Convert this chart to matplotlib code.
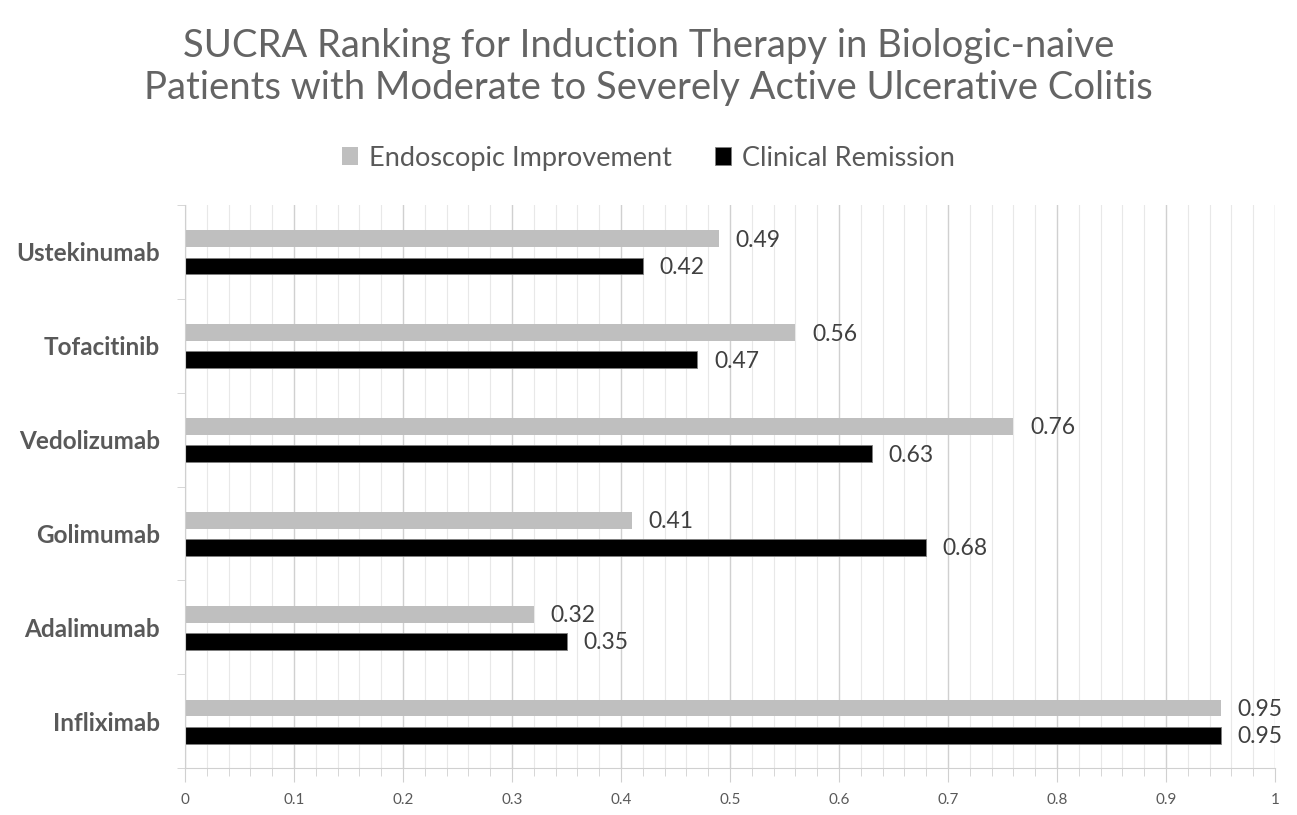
import numpy as np
import matplotlib.pyplot as plt
from matplotlib.ticker import MultipleLocator, FuncFormatter

plt.rcParams['font.family'] = ['Lato', 'DejaVu Sans']

# data
drugs = ['Infliximab', 'Adalimumab', 'Golimumab', 'Vedolizumab', 'Tofacitinib', 'Ustekinumab']
endoscopic = [0.95, 0.32, 0.41, 0.76, 0.56, 0.49]
clinical = [0.95, 0.35, 0.68, 0.63, 0.47, 0.42]

txt = '#595959'
y = np.arange(len(drugs))
h = 0.18

fig = plt.figure(figsize=(12.97, 8.15), dpi=100)
ax = fig.add_axes([185/1297, 1-768/815, 1090/1297, 563/815])

b1 = ax.barh(y + 0.14, endoscopic, height=h, color='#bfbfbf', label='Endoscopic Improvement')
b2 = ax.barh(y - 0.15, clinical, height=h, color='black', edgecolor='#7f7f7f', linewidth=0.6,
             label='Clinical Remission')

for bars, vals in ((b1, endoscopic), (b2, clinical)):
    for r, v in zip(bars, vals):
        ax.annotate(f'{v:.2f}', (v, r.get_y() + r.get_height()/2), xytext=(12, -1),
                    textcoords='offset points', va='center', ha='left', fontsize=16.5, color='#404040')

ax.set_xlim(0, 1)
ax.set_ylim(-0.5, len(drugs) - 0.5)
ax.xaxis.set_major_locator(MultipleLocator(0.1))
ax.xaxis.set_minor_locator(MultipleLocator(0.02))
ax.xaxis.set_major_formatter(FuncFormatter(lambda v, p: f'{v:.1f}'.rstrip('0').rstrip('.') if v else '0'))
ax.grid(axis='x', which='major', color='#d0d0d0', linewidth=1.0)
ax.grid(axis='x', which='minor', color='#e8e8e8', linewidth=0.8)
ax.set_axisbelow(True)
ax.tick_params(axis='x', which='both', colors='#d0d0d0', labelcolor=txt, labelsize=11, pad=8)
ax.tick_params(axis='x', which='major', length=10)
ax.tick_params(axis='x', which='minor', length=6)

ax.set_yticks(y)
ax.set_yticklabels(drugs, fontsize=17.5, fontweight='bold', color=txt)
ax.set_yticks(np.arange(-0.5, len(drugs)), minor=True)
ax.tick_params(axis='y', which='major', length=0, pad=18)
ax.tick_params(axis='y', which='minor', length=6, color='#d0d0d0')

for s in ['top', 'right']:
    ax.spines[s].set_visible(False)
ax.spines['left'].set_color('#d0d0d0')
ax.spines['bottom'].set_color('#d0d0d0')

fig.text(0.5, 0.918, 'SUCRA Ranking for Induction Therapy in Biologic-naive\nPatients with Moderate to Severely Active Ulcerative Colitis',
         ha='center', va='center', fontsize=27.5, color='#646464', linespacing=1.2)

fig.legend(handles=[b1, b2], loc='center', bbox_to_anchor=(0.5, 0.806), ncol=2, frameon=False,
           fontsize=19.5, labelcolor=txt, handlelength=0.6, handleheight=0.6, columnspacing=1.6,
           handletextpad=0.4)

plt.savefig('out.png', dpi=100)
